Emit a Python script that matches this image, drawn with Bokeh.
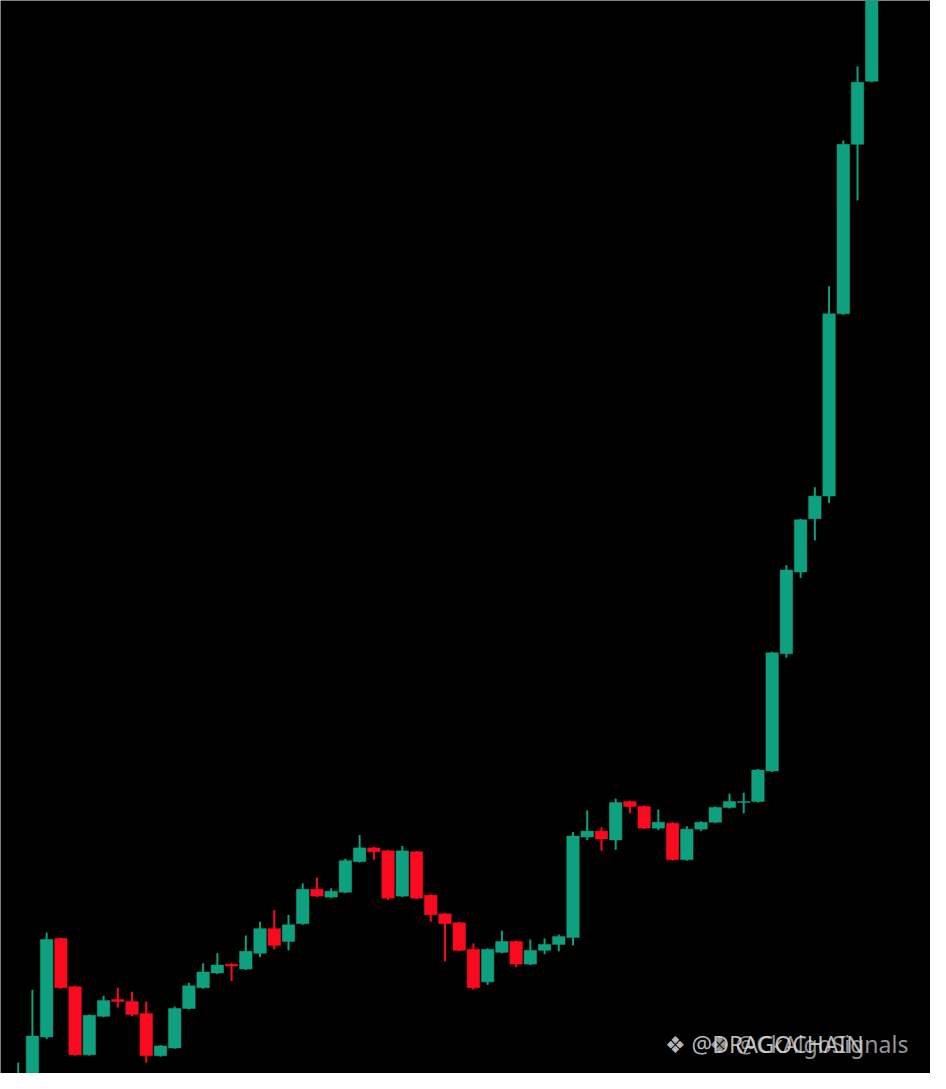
from bokeh.plotting import figure
from bokeh.models import Range1d, Label, ColumnDataSource
from bokeh.embed import file_html
from bokeh.resources import INLINE

# Candle data (arbitrary price units)
opens = [70, 100, 148, 248, 199, 130, 169, 186, 184, 172, 129, 137, 177, 198, 213, 222,
         217, 233, 258, 245, 263, 298, 290, 295, 326, 340, 337, 291, 336, 292, 273, 264,
         237, 204, 234, 245, 222, 236, 242, 249, 351, 357, 348, 387, 382, 360, 365, 328,
         359, 366, 381, 386, 387, 418, 537, 620, 674, 697, 882, 1054, 1118]
highs = [122, 196, 254, 249, 200, 171, 190, 198, 194, 184, 140, 179, 203, 223, 233, 223,
         251, 265, 277, 272, 304, 310, 299, 329, 353, 341, 338, 342, 337, 293, 274, 265,
         243, 238, 256, 246, 247, 248, 252, 356, 378, 361, 390, 388, 383, 379, 366, 362,
         367, 382, 395, 396, 420, 539, 627, 674, 706, 910, 1058, 1133, 1270]
lows = [60, 90, 146, 197, 129, 129, 168, 178, 169, 122, 128, 136, 176, 197, 212, 205,
        216, 229, 237, 236, 262, 290, 289, 294, 325, 328, 287, 290, 288, 265, 225, 235,
        196, 201, 233, 219, 221, 232, 235, 241, 348, 337, 338, 375, 359, 358, 327, 327,
        357, 365, 380, 375, 386, 417, 533, 614, 652, 690, 881, 997, 1117]
closes = [108, 149, 247, 198, 130, 170, 185, 184, 171, 129, 139, 177, 200, 214, 221, 220,
          235, 258, 241, 262, 298, 291, 296, 327, 340, 336, 289, 337, 289, 272, 263, 236,
          198, 237, 245, 222, 236, 242, 250, 352, 357, 349, 386, 382, 360, 366, 328, 359,
          366, 381, 387, 387, 419, 538, 622, 673, 697, 882, 1054, 1117, 1260]

watermark_texts = ["\u2756 @DRAGOCHAIN", "\u2756 @CkAlgoSignals"]

GREEN = "#0fa07f"
RED = "#f90a1e"

idx = list(range(len(opens)))
colors = [GREEN if c >= o else RED for o, c in zip(opens, closes)]
tops = [max(o, c) for o, c in zip(opens, closes)]
bottoms = [min(o, c) for o, c in zip(opens, closes)]

src = ColumnDataSource(dict(x=idx, o=opens, h=highs, l=lows, c=closes,
                            top=tops, bottom=bottoms, color=colors))

p = figure(width=930, height=1073, output_backend="svg", toolbar_location=None,
           x_range=Range1d(-1.244, 64.13), y_range=Range1d(111, 1200),
           x_axis_location=None, y_axis_location=None,
           background_fill_color="black", border_fill_color="black",
           min_border=0)
p.grid.visible = False
p.outline_line_color = None

p.segment(x0="x", y0="h", x1="x", y1="l", color="color", line_width=2, source=src)
p.vbar(x="x", width=0.88, top="top", bottom="bottom", fill_color="color",
       line_color="color", line_width=0.5, source=src)

p.add_layout(Label(x=664, y=14, x_units="screen", y_units="screen",
                   text=watermark_texts[0], text_font="Noto Sans", text_font_size="23px",
                   text_color="#d8d8d8", text_alpha=0.85))
p.add_layout(Label(x=708, y=14, x_units="screen", y_units="screen",
                   text=watermark_texts[1], text_font="Noto Sans", text_font_size="23px",
                   text_color="#d8d8d8", text_alpha=0.7))

html = file_html(p, INLINE)
html = html.replace("<body>", '<body style="background:#000000;">', 1)
open("out.html", "w").write(html)
